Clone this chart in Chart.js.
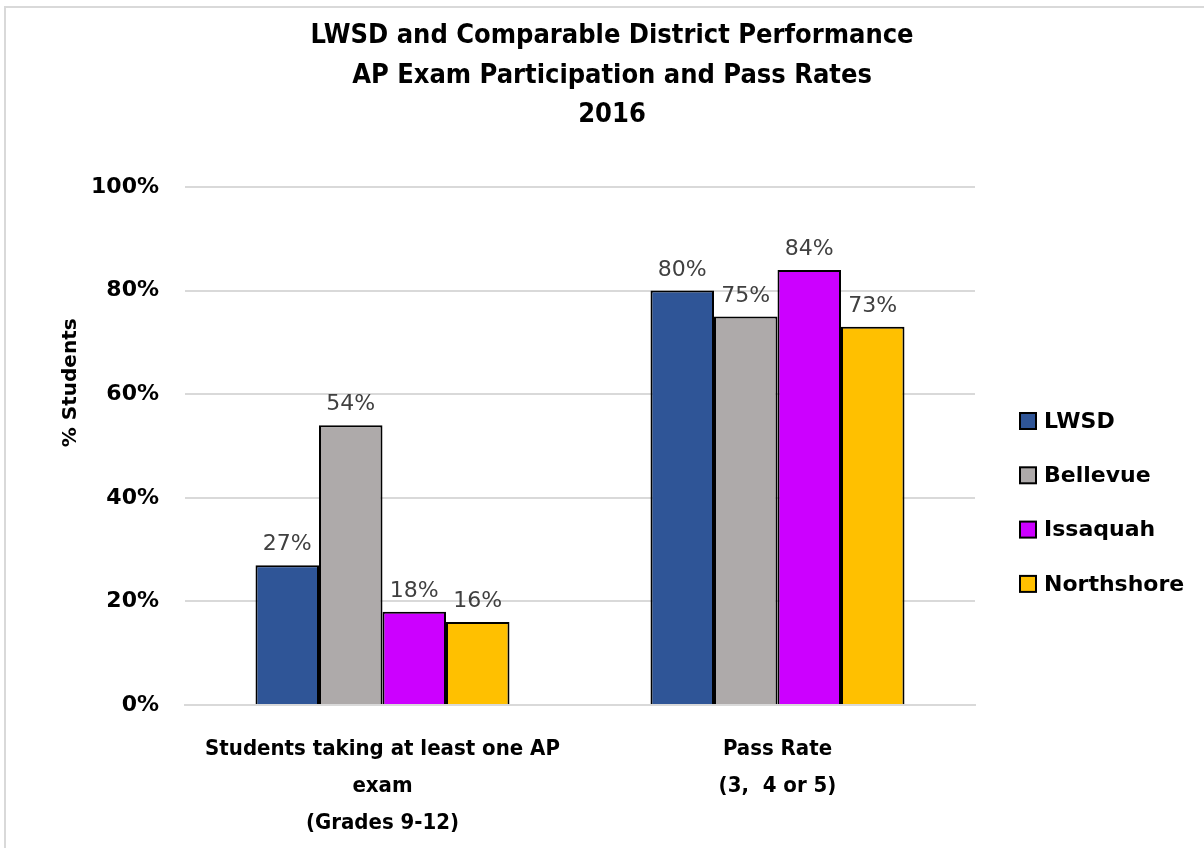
<!DOCTYPE html>
<html>
<head>
<meta charset="utf-8">
<script src="https://cdn.jsdelivr.net/npm/chart.js@4/dist/chart.umd.min.js"></script>
<style>
  html, body { margin: 0; padding: 0; background: #fff; overflow: hidden; }
  #frame { position: absolute; left: 4px; top: 6px; width: 1210px; height: 860px; border: 2px solid #d9d9d9; box-sizing: border-box; }
  #wrap { position: absolute; left: 0; top: 0; width: 1204px; height: 848px; }
</style>
</head>
<body>
<div id="frame"></div>
<div id="wrap"><canvas id="chart"></canvas></div>
<script>
// chart data
const categories = [
    ['Students taking at least one AP', 'exam', '(Grades 9-12)'],
    ['Pass Rate', '(3,  4 or 5)']
];
const districts = ['LWSD', 'Bellevue', 'Issaquah', 'Northshore'];
const lwsd = [27, 80];
const bellevue = [54, 75];
const issaquah = [18, 84];
const northshore = [16, 73];
const yTicks = [0, 20, 40, 60, 80, 100];
const titleLines = ['LWSD and Comparable District Performance', 'AP Exam Participation and Pass Rates', '2016'];

const colors = ['#2F5597', '#AEAAAA', '#CC00FF', '#FFC000'];
const seriesValues = [lwsd, bellevue, issaquah, northshore];

const condensed = "'Liberation Sans Narrow', 'DejaVu Sans Condensed', sans-serif";
const wide = "'DejaVu Sans', Verdana, sans-serif";

// value labels above every bar
const valueLabels = {
    id: 'valueLabels',
    afterDatasetsDraw(chart) {
        const ctx = chart.ctx;
        ctx.save();
        ctx.font = '22px ' + wide;
        ctx.fillStyle = '#404040';
        ctx.textAlign = 'center';
        ctx.textBaseline = 'alphabetic';
        chart.data.datasets.forEach((ds, i) => {
            chart.getDatasetMeta(i).data.forEach((bar, j) => {
                ctx.fillText(ds.data[j] + '%', bar.x, bar.y - 15);
            });
        });
        ctx.restore();
    }
};

// title, y axis title and the legend on the right
const sideText = {
    id: 'sideText',
    afterDraw(chart) {
        const ctx = chart.ctx;
        const area = chart.chartArea;

        ctx.save();
        ctx.fillStyle = '#000';
        ctx.font = 'bold 27px ' + condensed;
        ctx.textAlign = 'center';
        ctx.textBaseline = 'middle';
        titleLines.forEach((line, i) => ctx.fillText(line, 612, 36 + i * 39.5));
        ctx.restore();

        ctx.save();
        ctx.fillStyle = '#000';
        ctx.font = 'bold 20px ' + wide;
        ctx.textAlign = 'center';
        ctx.textBaseline = 'middle';
        ctx.translate(71, area.top + (area.bottom - area.top) * 0.378);
        ctx.rotate(-Math.PI / 2);
        ctx.fillText('% Students', 0, 0);
        ctx.restore();

        ctx.save();
        ctx.font = 'bold 22px ' + wide;
        ctx.textAlign = 'left';
        ctx.textBaseline = 'middle';
        chart.data.datasets.forEach((ds, i) => {
            const y = 421 + i * 54.3;
            ctx.fillStyle = ds.backgroundColor;
            ctx.fillRect(1020, y - 8, 16, 16);
            ctx.strokeStyle = '#000';
            ctx.lineWidth = 2;
            ctx.strokeRect(1020, y - 8, 16, 16);
            ctx.fillStyle = '#000';
            ctx.fillText(ds.label, 1044, y + 1);
        });
        ctx.restore();
    }
};

const datasets = districts.map((name, i) => ({
    label: name,
    data: seriesValues[i],
    backgroundColor: colors[i],
    borderColor: '#000',
    borderWidth: 2,
    borderSkipped: 'bottom',
    categoryPercentage: 0.643,
    barPercentage: 1.0
}));

new Chart(document.getElementById('chart'), {
    type: 'bar',
    data: { labels: categories, datasets: datasets },
    plugins: [valueLabels, sideText],
    options: {
        responsive: true,
        maintainAspectRatio: false,
        animation: false,
        layout: { padding: { top: 187, left: 0, right: 229, bottom: 0 } },
        plugins: {
            title: { display: false },
            legend: { display: false },
            tooltip: { enabled: false }
        },
        scales: {
            x: {
                afterFit: (axis) => { axis.height = 143; },
                grid: { display: false },
                border: { color: '#d9d9d9', width: 2 },
                ticks: {
                    font: { family: condensed, size: 22, weight: 'bold', lineHeight: 1.68 },
                    color: '#000',
                    padding: 18,
                    maxRotation: 0,
                    minRotation: 0,
                    autoSkip: false
                }
            },
            y: {
                min: 0,
                max: 100,
                afterBuildTicks: (axis) => { axis.ticks = yTicks.map(v => ({ value: v })); },
                afterFit: (axis) => { axis.width = 185; },
                grid: { color: '#d9d9d9', lineWidth: 2, drawTicks: false },
                border: { display: false },
                ticks: {
                    font: { family: wide, size: 22, weight: 'bold' },
                    color: '#000',
                    padding: 26,
                    callback: (v) => v + '%'
                }
            }
        }
    }
});
</script>
</body>
</html>
